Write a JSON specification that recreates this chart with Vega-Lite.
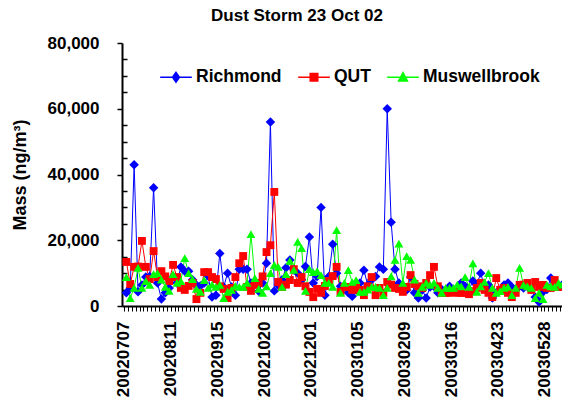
{
  "$schema": "https://vega.github.io/schema/vega-lite/v6.json",
  "autosize": {"type": "none"},
  "padding": {"left": 122, "top": 43, "right": 0, "bottom": 99},
  "width": 440,
  "height": 263,
  "background": "white",
  "config": {"view": {"stroke": null}, "font": "Liberation Sans"},
  "title": {"text": "Dust Storm 23 Oct 02", "font": "Liberation Sans", "fontSize": 17, "fontWeight": "bold", "color": "black", "anchor": "middle", "frame": "group", "dx": -45, "offset": 9},
  "data": {"values": [
    {"date": "20020707", "Richmond": 4000, "QUT": 13400, "Muswellbrook": 8800},
    {"date": "20020710", "Richmond": 5500, "QUT": 6700, "Muswellbrook": 2400},
    {"date": "20020713", "Richmond": 43000, "QUT": 11900, "Muswellbrook": 5500},
    {"date": "20020716", "Richmond": 4300, "QUT": 12000, "Muswellbrook": 11600},
    {"date": "20020719", "Richmond": 6400, "QUT": 19800, "Muswellbrook": 5500},
    {"date": "20020722", "Richmond": 8800, "QUT": 11900, "Muswellbrook": 7600},
    {"date": "20020725", "Richmond": 9000, "QUT": 8200, "Muswellbrook": 6400},
    {"date": "20020728", "Richmond": 36000, "QUT": 16700, "Muswellbrook": 9700},
    {"date": "20020731", "Richmond": 7000, "QUT": 8800, "Muswellbrook": 10000},
    {"date": "20020803", "Richmond": 2100, "QUT": 10600, "Muswellbrook": 8000},
    {"date": "20020806", "Richmond": 4000, "QUT": 9000, "Muswellbrook": 5800},
    {"date": "20020809", "Richmond": 5500, "QUT": 7600, "Muswellbrook": 4600},
    {"date": "20020811", "Richmond": 8800, "QUT": 12500, "Muswellbrook": 9700},
    {"date": "20020814", "Richmond": 7000, "QUT": 8800, "Muswellbrook": 7000},
    {"date": "20020817", "Richmond": 11900, "QUT": 5500, "Muswellbrook": 7600},
    {"date": "20020820", "Richmond": 10600, "QUT": 4900, "Muswellbrook": 14600},
    {"date": "20020823", "Richmond": 10600, "QUT": 6100, "Muswellbrook": 10000},
    {"date": "20020826", "Richmond": 8000, "QUT": 7000, "Muswellbrook": 8200},
    {"date": "20020829", "Richmond": 6400, "QUT": 2100, "Muswellbrook": 5200},
    {"date": "20020901", "Richmond": 6100, "QUT": 4000, "Muswellbrook": 4300},
    {"date": "20020904", "Richmond": 7000, "QUT": 10300, "Muswellbrook": 7900},
    {"date": "20020907", "Richmond": 9100, "QUT": 10300, "Muswellbrook": 5500},
    {"date": "20020910", "Richmond": 2700, "QUT": 8800, "Muswellbrook": 6500},
    {"date": "20020913", "Richmond": 3300, "QUT": 8200, "Muswellbrook": 5800},
    {"date": "20020915", "Richmond": 16000, "QUT": 6000, "Muswellbrook": 6400},
    {"date": "20020918", "Richmond": 5800, "QUT": 5200, "Muswellbrook": 2400},
    {"date": "20020921", "Richmond": 10000, "QUT": 2400, "Muswellbrook": 4300},
    {"date": "20020924", "Richmond": 5800, "QUT": 5500, "Muswellbrook": 4900},
    {"date": "20020927", "Richmond": 3300, "QUT": 8800, "Muswellbrook": 6100},
    {"date": "20020930", "Richmond": 11200, "QUT": 13000, "Muswellbrook": 5800},
    {"date": "20021003", "Richmond": 11200, "QUT": 15200, "Muswellbrook": 5800},
    {"date": "20021006", "Richmond": 11200, "QUT": 5800, "Muswellbrook": 7000},
    {"date": "20021009", "Richmond": 7000, "QUT": 4600, "Muswellbrook": 21900},
    {"date": "20021012", "Richmond": 7000, "QUT": 6400, "Muswellbrook": 8500},
    {"date": "20021015", "Richmond": 4500, "QUT": 7000, "Muswellbrook": 5200},
    {"date": "20021018", "Richmond": 7000, "QUT": 9000, "Muswellbrook": 4000},
    {"date": "20021020", "Richmond": 13000, "QUT": 16400, "Muswellbrook": 6000},
    {"date": "20021023", "Richmond": 56000, "QUT": 18500, "Muswellbrook": 10000},
    {"date": "20021026", "Richmond": 4600, "QUT": 34700, "Muswellbrook": 12500},
    {"date": "20021029", "Richmond": 6400, "QUT": 7300, "Muswellbrook": 11900},
    {"date": "20021101", "Richmond": 8000, "QUT": 5800, "Muswellbrook": 5800},
    {"date": "20021104", "Richmond": 11600, "QUT": 6500, "Muswellbrook": 9700},
    {"date": "20021107", "Richmond": 14000, "QUT": 7900, "Muswellbrook": 13700},
    {"date": "20021110", "Richmond": 11000, "QUT": 11200, "Muswellbrook": 11000},
    {"date": "20021113", "Richmond": 10000, "QUT": 7000, "Muswellbrook": 19500},
    {"date": "20021116", "Richmond": 8000, "QUT": 8800, "Muswellbrook": 17600},
    {"date": "20021119", "Richmond": 12000, "QUT": 6000, "Muswellbrook": 4600},
    {"date": "20021125", "Richmond": 21000, "QUT": 4300, "Muswellbrook": 11200},
    {"date": "20021201", "Richmond": 7000, "QUT": 2700, "Muswellbrook": 10300},
    {"date": "20021204", "Richmond": 9000, "QUT": 5200, "Muswellbrook": 10600},
    {"date": "20021207", "Richmond": 30000, "QUT": 4000, "Muswellbrook": 9400},
    {"date": "20021210", "Richmond": 3300, "QUT": 6100, "Muswellbrook": 7000},
    {"date": "20021213", "Richmond": 9000, "QUT": 7600, "Muswellbrook": 7000},
    {"date": "20021216", "Richmond": 18800, "QUT": 9100, "Muswellbrook": 5800},
    {"date": "20021219", "Richmond": 10000, "QUT": 11900, "Muswellbrook": 23100},
    {"date": "20021222", "Richmond": 6000, "QUT": 4300, "Muswellbrook": 4000},
    {"date": "20021225", "Richmond": 5800, "QUT": 5800, "Muswellbrook": 7000},
    {"date": "20021228", "Richmond": 4000, "QUT": 5800, "Muswellbrook": 10900},
    {"date": "20021231", "Richmond": 3000, "QUT": 4900, "Muswellbrook": 7300},
    {"date": "20030103", "Richmond": 4900, "QUT": 5500, "Muswellbrook": 7900},
    {"date": "20030105", "Richmond": 7000, "QUT": 4900, "Muswellbrook": 4300},
    {"date": "20030108", "Richmond": 10900, "QUT": 3300, "Muswellbrook": 4300},
    {"date": "20030111", "Richmond": 6400, "QUT": 6000, "Muswellbrook": 5000},
    {"date": "20030114", "Richmond": 8000, "QUT": 8800, "Muswellbrook": 5800},
    {"date": "20030117", "Richmond": 9000, "QUT": 3300, "Muswellbrook": 5800},
    {"date": "20030120", "Richmond": 11900, "QUT": 5500, "Muswellbrook": 5500},
    {"date": "20030123", "Richmond": 11200, "QUT": 4000, "Muswellbrook": 3300},
    {"date": "20030126", "Richmond": 60000, "QUT": 7300, "Muswellbrook": 5500},
    {"date": "20030129", "Richmond": 25500, "QUT": 6500, "Muswellbrook": 9000},
    {"date": "20030201", "Richmond": 11200, "QUT": 5500, "Muswellbrook": 14000},
    {"date": "20030204", "Richmond": 7000, "QUT": 5200, "Muswellbrook": 19000},
    {"date": "20030207", "Richmond": 5800, "QUT": 4300, "Muswellbrook": 7000},
    {"date": "20030209", "Richmond": 4900, "QUT": 5800, "Muswellbrook": 15200},
    {"date": "20030212", "Richmond": 8800, "QUT": 9400, "Muswellbrook": 14000},
    {"date": "20030215", "Richmond": 4000, "QUT": 6700, "Muswellbrook": 8000},
    {"date": "20030218", "Richmond": 2400, "QUT": 6000, "Muswellbrook": 4000},
    {"date": "20030221", "Richmond": 4900, "QUT": 5500, "Muswellbrook": 5800},
    {"date": "20030224", "Richmond": 2400, "QUT": 7000, "Muswellbrook": 7000},
    {"date": "20030227", "Richmond": 5800, "QUT": 9400, "Muswellbrook": 6400},
    {"date": "20030302", "Richmond": 6000, "QUT": 11900, "Muswellbrook": 7000},
    {"date": "20030305", "Richmond": 4000, "QUT": 6000, "Muswellbrook": 5500},
    {"date": "20030308", "Richmond": 5000, "QUT": 4000, "Muswellbrook": 4000},
    {"date": "20030311", "Richmond": 4500, "QUT": 4000, "Muswellbrook": 5500},
    {"date": "20030314", "Richmond": 6000, "QUT": 4000, "Muswellbrook": 5500},
    {"date": "20030316", "Richmond": 5000, "QUT": 4300, "Muswellbrook": 5500},
    {"date": "20030319", "Richmond": 4500, "QUT": 4000, "Muswellbrook": 6500},
    {"date": "20030322", "Richmond": 7000, "QUT": 4000, "Muswellbrook": 6000},
    {"date": "20030325", "Richmond": 6000, "QUT": 4000, "Muswellbrook": 8800},
    {"date": "20030328", "Richmond": 5000, "QUT": 3600, "Muswellbrook": 5800},
    {"date": "20030331", "Richmond": 7600, "QUT": 4500, "Muswellbrook": 13000},
    {"date": "20030403", "Richmond": 6500, "QUT": 5500, "Muswellbrook": 4300},
    {"date": "20030406", "Richmond": 10000, "QUT": 7000, "Muswellbrook": 6000},
    {"date": "20030409", "Richmond": 5800, "QUT": 4900, "Muswellbrook": 7300},
    {"date": "20030412", "Richmond": 6400, "QUT": 4000, "Muswellbrook": 10000},
    {"date": "20030415", "Richmond": 2400, "QUT": 2700, "Muswellbrook": 5500},
    {"date": "20030419", "Richmond": 4000, "QUT": 8500, "Muswellbrook": 4000},
    {"date": "20030423", "Richmond": 4900, "QUT": 4900, "Muswellbrook": 4500},
    {"date": "20030426", "Richmond": 6400, "QUT": 5500, "Muswellbrook": 5500},
    {"date": "20030429", "Richmond": 7000, "QUT": 4000, "Muswellbrook": 5800},
    {"date": "20030502", "Richmond": 5800, "QUT": 2700, "Muswellbrook": 3300},
    {"date": "20030505", "Richmond": 5000, "QUT": 4000, "Muswellbrook": 5500},
    {"date": "20030508", "Richmond": 6000, "QUT": 6400, "Muswellbrook": 11600},
    {"date": "20030511", "Richmond": 5500, "QUT": 6500, "Muswellbrook": 6400},
    {"date": "20030514", "Richmond": 6000, "QUT": 7000, "Muswellbrook": 6000},
    {"date": "20030517", "Richmond": 5000, "QUT": 4900, "Muswellbrook": 5500},
    {"date": "20030520", "Richmond": 2700, "QUT": 7300, "Muswellbrook": 2400},
    {"date": "20030523", "Richmond": 1200, "QUT": 5800, "Muswellbrook": 4000},
    {"date": "20030526", "Richmond": 4300, "QUT": 6400, "Muswellbrook": 2100},
    {"date": "20030528", "Richmond": 5000, "QUT": 5500, "Muswellbrook": 6400},
    {"date": "20030531", "Richmond": 8500, "QUT": 5500, "Muswellbrook": 6000},
    {"date": "20030603", "Richmond": 7000, "QUT": 7900, "Muswellbrook": 5800},
    {"date": "20030606", "Richmond": 6000, "QUT": 5800, "Muswellbrook": 7000},
    {"date": "20030609", "Richmond": 6500, "QUT": 5800, "Muswellbrook": 6500}
  ]},
  "transform": [{"fold": ["Richmond", "QUT", "Muswellbrook"], "as": ["site", "mass"]}],
  "encoding": {
    "x": {"field": "date", "type": "ordinal", "axis": {
      "title": null, "grid": false,
      "labelExpr": "indexof(['20020707','20020811','20020915','20021020','20021201','20030105','20030209','20030316','20030423','20030528'], datum.label) >= 0 ? datum.label : ''",
      "labelAngle": -90, "labelFontSize": 17, "labelFontWeight": "bold", "labelColor": "black", "labelFont": "Liberation Sans",
      "labelPadding": 10, "labelOverlap": false, "tickSize": 5, "tickWidth": 1, "tickColor": "black", "domainColor": "black", "domainWidth": 2
    }},
    "y": {"field": "mass", "type": "quantitative", "scale": {"domain": [0, 80000], "nice": false}, "axis": {
      "values": [0, 5000, 10000, 15000, 20000, 25000, 30000, 35000, 40000, 45000, 50000, 55000, 60000, 65000, 70000, 75000, 80000],
      "labelExpr": "datum.value % 20000 === 0 ? format(datum.value, ',') : ''",
      "grid": false, "labelFontSize": 17, "labelFontWeight": "bold", "labelColor": "black", "labelFont": "Liberation Sans",
      "labelPadding": 18, "labelOverlap": false, "labelFlush": false,
      "tickSize": {"condition": {"test": "datum.value % 20000 === 0", "value": 5}, "value": -5},
      "tickWidth": 1.5, "tickColor": "black", "domainColor": "black", "domainWidth": 2,
      "title": "Mass (ng/m³)", "titleFontSize": 18, "titleFontWeight": "bold", "titleColor": "black", "titleFont": "Liberation Sans",
      "titleX": -102, "titleY": 131.5, "titleAngle": -90, "titleAlign": "center", "titleBaseline": "middle"
    }},
    "color": {"field": "site", "type": "nominal",
      "scale": {"domain": ["Richmond", "QUT", "Muswellbrook"], "range": ["#0000FF", "#FF0000", "#00FF00"]},
      "legend": {"orient": "none", "legendX": 37, "legendY": 17, "direction": "horizontal", "columns": 3, "title": null,
        "symbolSize": 1000, "labelFontSize": 17.5, "labelFontWeight": "bold", "labelColor": "black", "labelFont": "Liberation Sans",
        "columnPadding": 13, "labelOffset": 3, "padding": 0, "labelLimit": 300,
        "encode": {"symbols": {"update": {
          "shape": {"signal": "datum.value === 'Richmond' ? 'M-1,0H1M0,-0.31L0.22,0L0,0.31L-0.22,0Z' : (datum.value === 'QUT' ? 'M-1,0H1M-0.24,-0.24H0.24V0.24H-0.24Z' : 'M-1,0H1M0,-0.3L0.28,0.24H-0.28Z')"},
          "size": {"value": 1000},
          "stroke": {"signal": "scale('color', datum.value)"},
          "fill": {"signal": "scale('color', datum.value)"},
          "strokeWidth": {"value": 1.5},
          "opacity": {"value": 1}
        }}}
      }
    }
  },
  "layer": [
    {"mark": {"type": "line", "strokeWidth": 1, "xOffset": 2.4}},
    {"transform": [{"filter": "datum.site === 'Richmond'"}],
     "mark": {"type": "point", "filled": true, "shape": "diamond", "size": 90, "opacity": 1, "xOffset": 2.4}},
    {"transform": [{"filter": "datum.site === 'QUT'"}],
     "mark": {"type": "point", "filled": true, "shape": "square", "size": 62, "opacity": 1, "xOffset": 2.4}},
    {"transform": [{"filter": "datum.site === 'Muswellbrook'"}],
     "mark": {"type": "point", "filled": true, "shape": "triangle-up", "size": 80, "opacity": 1, "xOffset": 2.4}}
  ]
}
